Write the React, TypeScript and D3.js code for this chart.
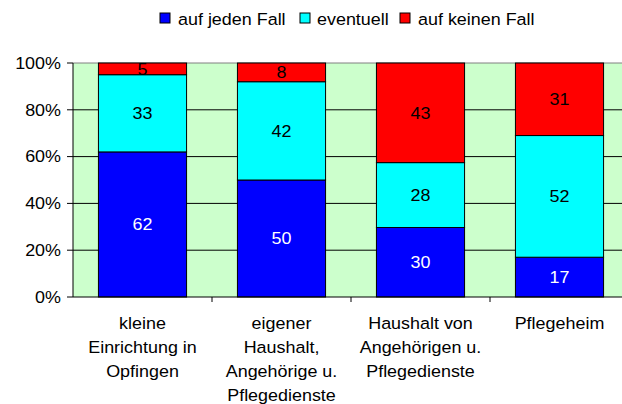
import React from 'react';
import * as d3 from 'd3';

const categories = [
  ['kleine', 'Einrichtung in', 'Opfingen'],
  ['eigener', 'Haushalt,', 'Angehörige u.', 'Pflegedienste'],
  ['Haushalt von', 'Angehörigen u.', 'Pflegedienste'],
  ['Pflegeheim'],
];
const seriesNames = ['auf jeden Fall', 'eventuell', 'auf keinen Fall'];
const aufJedenFall = [62, 50, 30, 17];
const eventuell = [33, 42, 28, 52];
const aufKeinenFall = [5, 8, 43, 31];
const yTicks = [0, 0.2, 0.4, 0.6, 0.8, 1];

const colors = ['#0000ff', '#00ffff', '#ff0000'];
const labelColors = ['#ffffff', '#000000', '#000000'];

const width = 622;
const height = 404;
const margin = { top: 63, left: 73, bottom: 107 };
const plotRight = 629;
const font = 'Liberation Sans, Arial, sans-serif';
const fs = 16.3;
const stretch = 1.1;

// Excel text here is drawn a bit wide, so stretch horizontally
const T = ({ x, y, anchor = 'start', fill = '#000', children }: any) => (
  <text transform={`translate(${x},${y}) scale(${stretch},1)`} dy="0.35em" textAnchor={anchor} fontSize={fs} fill={fill}>
    {children}
  </text>
);

const App = () => {
  const innerHeight = height - margin.top - margin.bottom;
  const keys = categories.map((_, i) => String(i));

  const xScale = d3.scaleBand().domain(keys).range([margin.left, plotRight]).paddingInner(0.366).paddingOuter(0.183);
  const bandScale = d3.scaleBand().domain(keys).range([margin.left, plotRight]);
  const yScale = d3.scaleLinear().domain([0, 1]).range([margin.top + innerHeight, margin.top]);

  const rows = keys.map((k, i) => ({ key: k, s0: aufJedenFall[i], s1: eventuell[i], s2: aufKeinenFall[i] }));
  const stacked = d3.stack<any>().keys(['s0', 's1', 's2']).offset(d3.stackOffsetExpand)(rows);
  const raw = [aufJedenFall, eventuell, aufKeinenFall];

  const legendItems = [
    { x: 160, textX: 178 },
    { x: 300, textX: 317 },
    { x: 400, textX: 418 },
  ];

  return (
    <svg width={width} height={height} style={{ position: 'absolute', left: 0, top: 0 }} fontFamily={font}>
      <rect x={0} y={0} width={width} height={height} fill="#fff" />
      <rect x={margin.left} y={margin.top} width={plotRight - margin.left} height={innerHeight} fill="#ccffcc" />
      {yTicks.slice(1, -1).map(t => (
        <line key={t} x1={margin.left} x2={plotRight} y1={yScale(t)} y2={yScale(t)} stroke="#000" />
      ))}
      <line x1={margin.left} x2={plotRight} y1={yScale(1)} y2={yScale(1)} stroke="#808080" />

      {stacked.map((layer, si) => (
        <g key={si}>
          {layer.map((d, i) => {
            const y0 = yScale(d[1]);
            const y1 = yScale(d[0]);
            const x = xScale(keys[i])!;
            return (
              <g key={i}>
                <rect x={x} y={y0} width={xScale.bandwidth()} height={y1 - y0} fill={colors[si]} stroke="#000" />
                <T x={x + xScale.bandwidth() / 2} y={(y0 + y1) / 2} anchor="middle" fill={labelColors[si]}>
                  {raw[si][i]}
                </T>
              </g>
            );
          })}
        </g>
      ))}

      <line x1={margin.left} x2={margin.left} y1={margin.top} y2={yScale(0)} stroke="#000" />
      <line x1={margin.left} x2={plotRight} y1={yScale(0)} y2={yScale(0)} stroke="#000" />
      {yTicks.map(t => (
        <g key={t}>
          <line x1={margin.left - 6} x2={margin.left} y1={yScale(t)} y2={yScale(t)} stroke="#000" />
          <T x={61} y={yScale(t)} anchor="end">
            {d3.format('.0%')(t)}
          </T>
        </g>
      ))}
      {keys.map(k => (
        <line key={k} x1={bandScale(k)! + bandScale.bandwidth()} x2={bandScale(k)! + bandScale.bandwidth()} y1={yScale(0)} y2={yScale(0) + 5} stroke="#000" />
      ))}
      {categories.map((lines, i) =>
        lines.map((l, j) => (
          <T key={i + '-' + j} x={bandScale(keys[i])! + bandScale.bandwidth() / 2} y={323 + j * 24} anchor="middle">
            {l}
          </T>
        ))
      )}

      {seriesNames.map((name, i) => (
        <g key={name}>
          <rect x={legendItems[i].x} y={13} width={10} height={10} fill={colors[i]} stroke="#000" />
          <T x={legendItems[i].textX} y={19}>
            {name}
          </T>
        </g>
      ))}
    </svg>
  );
};

export default App;
